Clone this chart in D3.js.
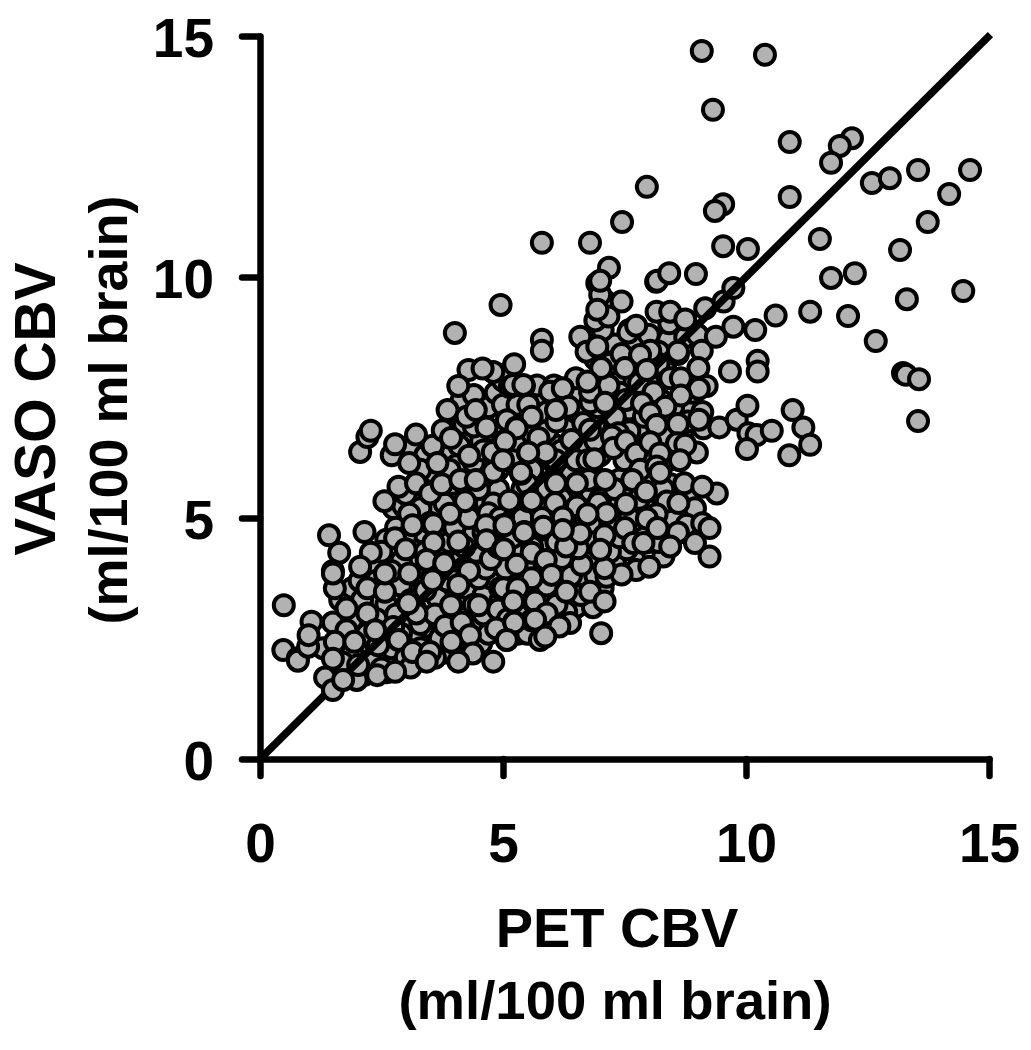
<!DOCTYPE html>
<html><head><meta charset="utf-8">
<script src="https://cdn.jsdelivr.net/npm/d3@7"></script>
<style>html,body{margin:0;padding:0;background:#fff}svg{display:block}</style></head>
<body><div id="chart"></div>
<script>
const xTitle = ["PET CBV", "(ml/100 ml brain)"];
const yTitle = ["VASO CBV", "(ml/100 ml brain)"];
const tickValues = [0, 5, 10, 15];
const identityLine = [[0, 0], [15.03, 15.03]];

// Points lying underneath the identity line (PET CBV, VASO CBV)
const pointsBelowLine = [
[2.15,2.2],[2.35,2.45],[2.6,2.6],[2.95,2.85],[3.25,2.55],[3.45,2.75],[3.7,2.85],[3.95,2.7],[4.1,2.35],[4.45,2.75],[4.55,2.4],[4.95,2.8],[5.3,2.6],[3.75,2.2],[3.3,2.05],[2.95,2.35],
[2.3,3.25],[2.75,3.3],[3.15,3.55],[3.3,3.75],[3.65,3.35],[3.85,3.7],[4.05,3.3],[4.25,3.55],[4.6,3.4],[4.75,3.75],[4.95,3.3],[5.15,3.75],[5.45,3.45],[5.75,3.65],[6.1,3.6],[6.5,3.15],[6.85,3.15],[6.3,3.05],[4.5,3.75],[3.4,3.95],[3.9,3.95],[4.65,3.95],[5.05,3.95],[5.45,4.0],[6.55,3.7],[7.3,4.0],[7.05,3.55],[7.45,4.1],[7.7,4.15],[8.3,4.2],[6.75,4.15],
[2.65,4.05],[3.2,4.55],[3.35,4.7],[3.75,4.3],[3.85,4.75],[4.2,4.2],[4.45,4.3],[4.4,4.7],[4.8,4.6],[4.75,4.15],[5.25,4.3],[5.15,4.75],[5.65,4.65],[5.85,4.35],[6.1,4.5],[6.0,4.95],[6.4,4.85],[6.75,4.55],[6.9,4.9],[7.3,4.45],[7.55,4.35],[7.8,4.75],[8.0,4.5],[8.35,4.75],[8.85,4.65],[7.25,4.9],[2.6,4.55],[2.95,4.95],[7.7,4.95],
[2.75,5.2],[2.95,5.25],[3.2,5.4],[3.4,5.65],[3.35,5.05],[3.6,5.15],[3.85,5.55],[4.0,5.3],[4.15,5.05],[4.4,5.35],[4.65,5.3],[4.9,5.6],[5.1,5.1],[5.3,5.3],[5.4,5.6],[5.65,5.1],[5.85,5.5],[5.75,5.9],[6.1,5.95],[6.35,5.55],[6.6,5.5],[6.8,5.55],[6.85,5.9],[7.25,5.35],[7.4,5.8],[7.6,5.55],[7.95,5.25],[8.15,5.55],[8.45,5.7],[8.8,5.45],[8.95,5.2],[6.3,5.2],[4.6,5.85],[4.2,5.9],[3.55,5.95],
[3.1,6.5],[3.4,6.3],[3.55,6.5],[3.75,6.15],[3.95,6.35],[4.05,6.1],[4.4,6.15],[4.55,6.6],[4.95,6.35],[5.05,6.8],[5.3,6.5],[5.7,6.35],[5.8,6.1],[6.1,6.5],[6.3,6.15],[6.55,6.45],[6.75,6.05],[7.0,6.3],[7.1,6.6],[7.5,6.2],[7.7,6.55],[7.9,6.8],[8.4,6.2],[8.7,6.8],[8.45,6.5],[6.0,6.55],[4.05,6.85],[4.2,6.95],[4.8,6.8],[5.6,6.75],[6.4,6.95],[6.9,6.95],[7.45,6.95],
[4.15,7.45],[4.4,7.55],[4.7,7.3],[4.85,7.6],[5.0,7.35],[5.3,7.35],[5.7,7.45],[5.9,7.2],[6.25,7.45],[6.6,7.6],[6.95,7.3],[7.25,7.45],[7.6,7.25],[7.75,7.6],[8.0,7.8],[8.25,7.45],[8.6,7.2],[8.85,7.3],[5.7,7.75],[6.05,7.75],[7.3,7.85],[8.35,8.05],[6.5,7.9],[5.0,7.85],
[6.9,8.3],[7.3,8.6],[7.55,8.25],[7.9,8.65],[8.4,8.7],[8.75,8.75],[9.0,8.8],[8.2,8.45],[7.05,8.9],[6.9,9.1],[7.1,9.5],[5.1,8.0],
[1.8,1.85],[2.15,1.75],[2.8,2.05],[1.6,1.6],[1.3,2.3],[1.65,2.35],[1.85,2.55],[2.0,2.75],[1.65,3.3],[1.9,3.55],[2.05,3.7],[2.3,4.0],
[2.6,3.2],[2.9,3.6],[3.1,3.3],[3.3,2.8],[3.4,3.5],[3.6,3.0],[3.7,2.5],[3.2,4.0],[2.9,4.1],[3.4,4.3],[3.7,4.0],[3.9,4.5],[4.1,4.1],[4.3,3.9],[4.4,3.2],[4.6,3.0],[4.7,2.6],[4.2,2.7],[4.9,3.1],[5.1,2.9],[5.4,3.1],[5.5,2.6],
[3.0,5.5],[3.3,6.0],[3.6,5.5],[3.9,6.0],[4.1,6.5],[4.4,6.9],[4.6,6.4],[4.9,6.0],[5.2,6.2],[4.5,5.6],[4.8,5.3],[3.3,5.2],[3.5,4.9],[3.8,5.3],[4.0,4.8],[4.3,5.0],[4.6,4.7],[4.9,4.4],[5.2,4.6],[5.4,5.0],[5.7,5.3],[5.9,5.6],[6.2,5.4],[6.4,5.9],[5.6,6.0],[5.9,6.8],[6.2,6.4],[6.5,7.2],[6.8,7.4],[6.1,7.0],
[5.6,4.4],[5.9,3.6],[6.1,3.2],[6.4,3.8],[6.6,3.4],[6.9,3.8],[7.2,4.3],[7.4,4.6],[7.6,5.0],[7.8,5.4],[6.8,4.9],[7.0,5.4],[7.3,5.6],[6.5,4.5],[6.3,5.0],[8.0,5.9],[8.3,5.6],[8.5,5.0],[8.2,4.5],[7.9,6.3],[7.6,6.8],[7.3,7.1],[7.9,7.1],[8.3,6.7],[8.5,7.3],[8.8,7.0],[8.9,7.6],[9.1,7.2],
[2.2,2.6],[2.4,2.9],[2.7,2.3],[2.9,2.6],[3.0,2.1],[3.3,2.3],[2.1,3.3],[2.4,3.7],[2.7,3.9],[1.9,2.2],[1.7,2.0],[2.3,2.0],[2.6,1.8],[3.1,1.9],[3.6,2.1],[4.0,2.4],[1.9,2.9],[2.5,4.3],[2.8,4.8],[3.0,4.6],
[7.7,8.6],[7.2,8.2],[7.6,8.9],[8.0,8.8],[7.0,7.7],[6.5,6.2],[5.8,5.0],[5.0,5.0],[4.7,5.1],[4.2,4.4],[3.6,3.8],[3.2,3.1],[2.8,3.0],[5.5,5.7],[6.0,6.2],[6.9,6.6],[7.4,7.6],[7.8,7.8],[8.2,8.2],[8.6,8.4],
[1.44,1.67],[1.99,1.64],[2.02,1.95],[2.5,1.88],[2.43,2.36],[2.74,2.74],[3.05,3.23],[3.22,3.02],[5.14,5.35],[6.41,6.62],[6.65,6.97],[6.79,6.83],[7.1,7.39],[7.53,7.45],[8.1,7.61],[7.86,7.38],[8.03,8.47],[9.16,9.35],[9.54,9.49],[9.74,9.77],[9.09,8.47],[4.94,5.0],[5.52,5.35],[6.09,6.2],[7.17,7.75],[6.74,6.2],[6.88,6.22],[5.0,4.85]
];

// Points drawn on top of the identity line
const pointsAboveLine = [
[0.49,3.19],[0.48,2.26],[0.78,2.09],[0.78,2.04],[0.99,2.33],[1.06,2.85],[1.0,2.57],[1.5,2.83],[1.78,2.67],[1.54,2.43],[1.94,2.43],[1.5,2.08],[1.34,1.69],[1.5,1.43],
[1.42,4.64],[1.63,4.28],[1.5,3.9],[1.54,3.54],[1.5,3.85],[1.78,3.12],[2.15,4.71],[2.28,4.28],[2.21,3.54],[2.57,3.47],[2.57,3.85],[2.21,3.02],[2.06,3.99],[2.06,6.37],[2.21,6.68],[2.28,6.81],[2.71,6.3],[2.78,6.53],[3.21,6.73],[3.07,6.14],[3.65,6.14],[2.56,5.35],[2.85,5.65],[3.21,5.72],[3.5,5.51],[3.74,5.7],
[4.29,8.07],[4.8,8.03],[4.58,8.1],[4.08,7.74],[5.23,8.19],[5.14,7.72],[5.43,7.74],[3.86,7.24],[4.25,7.1],[4.44,7.24],[4.66,6.88],[3.76,6.82],[3.93,6.66],[5.0,6.58],[5.08,7.03],[5.57,7.1],[5.28,6.88],[5.51,6.36],[4.79,6.37],[4.3,6.29],[5.37,5.92],[4.8,5.96],[4.12,5.79],[4.44,5.79],[4.22,5.35],[3.91,5.09],[3.07,5.09],[3.14,4.85],[3.57,4.87],[2.78,4.58],[3.57,4.49],[3.0,4.35],[4.08,4.51],[4.65,4.85],[5.03,4.85],[5.44,4.71],[4.66,4.54],[5.0,4.35],[5.59,4.28],[3.43,4.13],[3.79,4.06],[3.07,3.85],[3.55,3.71],[4.08,3.61],[4.94,3.54],[5.28,3.54],[3.93,3.19],[4.5,3.19],[5.21,3.26],[5.62,3.26],[3.05,3.23],[3.81,2.76],[4.15,2.83],[4.86,2.71],[5.08,2.47],[5.23,2.85],[5.59,2.88],[4.32,2.57],[3.94,2.43],[2.85,2.47],[3.14,2.22],[3.5,2.22],[4.38,2.19],[4.08,2.02],[4.8,2.02],[3.43,2.02],[2.41,1.74],[2.78,1.81],[2.37,2.67],[1.71,1.64],[5.76,2.47],
[4.95,9.42],[6.94,9.87],[7.0,9.63],[7.17,9.18],[6.94,9.32],[7.44,9.49],[8.15,9.9],[8.42,9.04],[8.16,9.28],[8.44,9.28],[8.75,9.12],[9.74,8.97],[10.19,8.9],[9.38,8.76],[10.61,9.2],[11.32,9.28],[7.58,8.85],[7.74,8.99],[5.8,8.7],[5.8,8.47],[6.59,8.76],[6.72,8.45],[6.94,8.56],[7.44,8.4],[7.82,8.38],[8.6,8.45],[7.02,8.11],[7.51,8.11],[7.96,8.07],[9.02,8.11],[9.67,8.04],[10.24,8.26],[10.24,8.04],[5.21,7.76],[5.42,7.76],[5.97,7.62],[6.23,7.69],[6.79,7.62],[6.74,7.83],[7.1,7.39],[8.44,7.9],[8.66,7.9],[9.19,7.74],[9.03,7.68],[8.66,7.54],[8.34,7.31],[8.03,7.17],[8.16,6.93],[8.6,6.95],[9.12,6.86],[9.03,7.04],[9.45,6.88],[9.81,7.04],[10.03,7.33],[10.96,7.24],[11.18,6.88],[11.32,6.52],[10.89,6.3],[10.05,6.76],[10.22,6.72],[10.53,6.81],[10.02,6.43],
[6.35,7.31],[6.09,7.24],[5.52,7.35],[5.59,7.1],[5.28,6.86],[5.73,6.66],[5.04,6.59],[5.88,6.36],[5.52,6.36],[7.37,6.76],[7.24,6.69],[7.27,6.45],[7.53,6.59],[7.74,6.34],[8.03,6.57],[8.58,6.55],[8.99,6.36],[8.75,6.52],[8.64,6.2],[8.23,6.34],[5.0,6.2],[5.37,5.94],[6.76,5.79],[6.09,5.72],[6.52,5.72],[7.1,5.79],[7.82,6.0],[7.66,5.79],[8.16,6.07],[8.23,5.94],[8.73,5.72],[9.4,5.51],[9.1,5.65],[7.94,5.55],[7.53,5.29],[6.96,5.31],[6.07,5.31],[5.13,5.36],[5.59,5.36],[6.52,5.24],[7.13,5.1],[6.74,5.08],[6.23,5.01],[8.37,5.34],[8.61,5.31],[8.16,5.08],[7.96,4.99],[7.51,4.79],[8.18,4.79],[8.78,4.86],[9.1,4.89],[8.6,4.7],[9.25,4.79],[8.95,4.48],[9.25,4.2],[8.44,4.41],[7.68,4.48],[7.89,4.48],[7.74,3.92],[8.01,3.99],[7.13,3.78],[7.44,3.83],[7.09,3.96],[7.09,4.64],[7.0,4.34],[6.62,4.03],[6.21,4.17],[6.55,4.37],[6.3,4.41],[5.88,4.13],[5.83,4.82],[6.59,4.68],[6.23,4.75],[5.43,4.7],[5.02,4.35],[5.28,4.03],[6.0,3.82],[5.59,3.75],[5.01,3.54],[5.3,3.54],[6.79,3.47],[6.3,3.47],[5.21,3.27],[5.66,3.27],[7.09,3.27],[5.9,3.02],[5.23,2.83],[5.66,2.89],[6.38,2.82],[6.16,2.75],[5.87,2.54],[5.08,2.47],[7.02,2.61],
[9.09,14.69],[10.39,14.61],[9.32,13.47],[10.9,12.8],[12.18,12.88],[11.93,12.72],[11.75,12.37],[7.96,11.87],[7.45,11.14],[9.53,11.51],[9.36,11.37],[10.9,11.66],[5.8,10.71],[6.79,10.71],[9.53,10.64],[10.04,10.58],[7.18,10.19],[7.0,9.92],[8.17,9.92],[8.42,10.08],[8.97,10.06],[11.52,10.79],[11.75,9.98],[12.24,10.08],[12.59,11.95],[12.96,12.05],[13.54,12.22],[14.61,12.22],[14.18,11.72],[13.74,11.14],[13.17,10.56],[13.31,9.54],[14.47,9.71],[12.1,9.19],[12.67,8.67],[13.23,8.01],[13.29,7.97],[13.56,7.88],[13.54,7.01],[4.01,8.84]
];

const width = 1031, height = 1050;
const x = d3.scaleLinear().domain([0, 15]).range([260, 989]);
const y = d3.scaleLinear().domain([0, 15]).range([759, 36]);
const FONT = "'Liberation Sans', Arial, sans-serif";

const svg = d3.select("#chart").append("svg").attr("width", width).attr("height", height);

function drawPoints(cls, data) {
  svg.append("g").attr("class", cls).selectAll("circle").data(data).join("circle")
    .attr("cx", d => x(d[0])).attr("cy", d => y(d[1])).attr("r", 10)
    .attr("fill", "#b2b2b2").attr("stroke", "#000").attr("stroke-width", 4);
}
drawPoints("below", pointsBelowLine);
svg.append("path").attr("d", d3.line().x(d => x(d[0])).y(d => y(d[1]))(identityLine))
  .attr("fill", "none").attr("stroke", "#000").attr("stroke-width", 7.5);
drawPoints("above", pointsAboveLine);

const xAxis = svg.append("g").attr("transform", `translate(0,${y(0)})`)
  .call(d3.axisBottom(x).tickValues(tickValues).tickSize(17).tickPadding(47).tickSizeOuter(0));
const yAxis = svg.append("g").attr("transform", `translate(${x(0)},0)`)
  .call(d3.axisLeft(y).tickValues(tickValues).tickSize(18).tickPadding(28).tickSizeOuter(0));
[xAxis, yAxis].forEach(a => {
  a.selectAll("path,line").attr("stroke", "#000").attr("stroke-width", 6.5).attr("stroke-linecap", "round");
  a.selectAll("text").attr("font-family", FONT).attr("font-weight", "bold").attr("font-size", 55).attr("fill", "#000");
});
yAxis.selectAll("text").attr("dy", "0.38em");

const titleSizes = [56, 54.5];
svg.selectAll(null).data(xTitle).join("text")
  .attr("x", (d, i) => i ? 615 : 617).attr("y", (d, i) => 947 + i * 72)
  .attr("text-anchor", "middle").attr("font-family", FONT).attr("font-weight", "bold")
  .attr("font-size", (d, i) => titleSizes[i]).text(d => d);
svg.selectAll(null).data(yTitle).join("text")
  .attr("transform", (d, i) => `translate(${i ? 127 : 54.5},${i ? 410 : 409}) rotate(-90)`)
  .attr("text-anchor", "middle").attr("font-family", FONT).attr("font-weight", "bold")
  .attr("font-size", (d, i) => i ? 54 : 57).text(d => d);
</script></body></html>
